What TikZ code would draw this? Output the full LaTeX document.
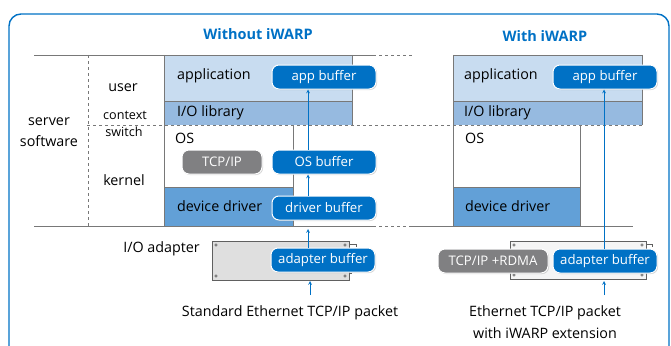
\documentclass[tikz,border=0pt]{standalone}
\usepackage{fontspec}
\setmainfont{Open Sans}
\usepackage{tikz}
\usetikzlibrary{shadows}

\definecolor{iblue}{RGB}{0,113,197}
\definecolor{appblue}{RGB}{200,220,240}
\definecolor{libblue}{RGB}{150,186,224}
\definecolor{drvblue}{RGB}{98,160,215}
\definecolor{protogray}{RGB}{128,128,130}
\definecolor{linegray}{RGB}{120,120,120}

\tikzset{
  gline/.style={draw=linegray,line width=0.8pt},
  buf/.style={rounded corners=7pt,draw=white,line width=1pt,fill=iblue,text=white,
    minimum width=104pt,minimum height=24pt,inner sep=0pt,font=\fontsize{13.2}{14}\selectfont,
    drop shadow={opacity=0.35,shadow xshift=1pt,shadow yshift=-1pt}},
  proto/.style={buf,fill=protogray},
  lbl/.style={font=\fontsize{14.3}{15}\selectfont,inner sep=0pt},
  small/.style={font=\fontsize{12.6}{14}\selectfont},
  title/.style={font=\fontsize{14.5}{15}\selectfont\bfseries,text=iblue},
  flow/.style={->,>=stealth,draw=iblue,line width=0.7pt},
  card/.style={draw=linegray!80!black,line width=0.8pt}
}

\begin{document}
\begin{tikzpicture}[x=1pt,y=-1pt]
			\useasboundingbox (0,0) rectangle (671,345);
			\draw[iblue,line width=1.4pt,rounded corners=12pt] (9,14) rectangle (669,360);

			\node[title] (t1) at (258,34) {Without iWARP};
			\node[title] (t2) at (545,36) {With iWARP};

			% left column layers
			\fill[appblue] (164,55) rectangle (352,101);
			\fill[libblue] (164,101) rectangle (352,125);
			\fill[drvblue] (164,187) rectangle (293,226);
			\draw[gline] (164,101) -- (352,101);
			\draw[gline] (352,55) -- (352,125);
			\draw[gline] (164,55) -- (164,226);
			\draw[gline] (293,125) -- (293,226);
			\draw[gline] (164,187) -- (293,187);

			% right column layers
			\fill[appblue] (453,55) rectangle (642,101);
			\fill[libblue] (453,101) rectangle (642,125);
			\fill[drvblue] (453,187) rectangle (580,226);
			\draw[gline] (453,101) -- (642,101);
			\draw[gline] (642,55) -- (642,125);
			\draw[gline] (453,55) -- (453,226);
			\draw[gline] (580,125) -- (580,226);
			\draw[gline] (453,187) -- (580,187);

			% separators
			\draw[gline] (34,55) -- (373,55);
			\draw[gline,dashed] (373,55) -- (412,55);
			\draw[gline] (453,55) -- (642,55);
			\draw[gline,dashed] (87,125) -- (642,125);
			\draw[gline,dashed] (88,55) -- (88,226);
			\draw[gline] (34,226) -- (373,226);
			\draw[gline,dashed] (373,226) -- (412,226);
			\draw[gline] (412,226) -- (633,226);

			% side labels
			\node[lbl] (srv) at (49,122) {server};
			\node[lbl] (sw) at (49,141) {software};
			\node[lbl] (usr) at (123,88) {user};
			\node[lbl,small] (ctx) at (125,115) {context};
			\node[lbl,small] (swt) at (124,132) {switch};
			\node[lbl] (krn) at (124,180) {kernel};
			\node[lbl,anchor=east] (ioa) at (200,249) {I/O adapter};

			% layer labels
			\node[lbl,anchor=west] (app1) at (177,76) {application};
			\node[lbl,anchor=west] (lib1) at (177,113) {I/O library};
			\node[lbl,anchor=west] (os1) at (175,138) {OS};
			\node[lbl,anchor=west] (drv1) at (177,206) {device driver};
			\node[lbl,anchor=west] (app2) at (464,76) {application};
			\node[lbl,anchor=west] (lib2) at (464,113) {I/O library};
			\node[lbl,anchor=west] (os2) at (465,138) {OS};
			\node[lbl,anchor=west] (drv2) at (465,206) {device driver};

			% adapter cards
			\draw[card,fill=gray!25] (212,241) rectangle (349,280);
			\draw[card,fill=gray!8] (510,241) rectangle (646,279);
			\foreach \cx/\cy in {216/245,345/245,216/276,345/276,514/245,642/245,514/275,642/275}
				\draw[linegray!80!black,line width=0.5pt] (\cx,\cy) circle (1.3pt);
			\draw[card] (350,244) -- (356,244) -- (356,247);
			\draw[card] (350,273) -- (352,273);
			\draw[card] (647,244) -- (652,244) -- (652,247);
			\draw[card] (647,272) -- (649,272);

			% buffers
			\node[buf] (abuf1) at (324,77) {app buffer};
			\node[proto,minimum width=80pt] (tcp1) at (222,162) {TCP/IP};
			\node[buf] (osbuf) at (324,162) {OS buffer};
			\node[buf] (dbuf) at (324,208) {driver buffer};
			\node[buf] (adbuf1) at (323,260) {adapter buffer};
			\node[buf] (abuf2) at (605,77) {app buffer};
			\node[proto,minimum width=110pt] (tcp2) at (493,261) {TCP/IP +RDMA};
			\node[buf] (adbuf2) at (605,261) {adapter buffer};

			% packets
			\node[lbl] (pkt1) at (290,313) {Standard Ethernet TCP/IP packet};
			\node[lbl] (pkt2) at (545,313) {Ethernet TCP/IP packet};
			\node[lbl] (pkt2b) at (545,333) {with iWARP extension};

			\coordinate (ax1) at (308,0);
			\coordinate (ax2) at (604,0);
			\coordinate (below1) at (308,229);
			\coordinate (in1) at (310,295);
			\coordinate (in2) at (604,295);

			\draw[flow] (adbuf1.north -| ax1) -- (below1);
			\draw[flow] (dbuf.north -| ax1) -- (osbuf.south -| ax1);
			\draw[flow] (osbuf.north -| ax1) -- (abuf1.south -| ax1);
			\draw[flow] (in1) -- (in1 |- 0,281);
			\draw[flow] (in2) -- (in2 |- 0,281);
			\draw[flow] (adbuf2.north -| ax2) -- (abuf2.south -| ax2);
		\end{tikzpicture}
\end{document}
